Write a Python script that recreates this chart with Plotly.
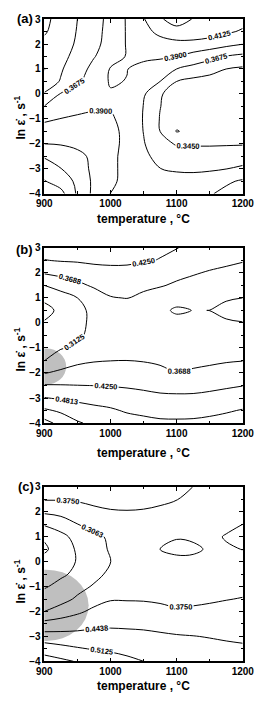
import plotly.graph_objects as go

# ---------------- data ----------------
temperatures = [900, 925, 950, 975, 1000, 1025, 1050, 1075, 1100, 1125, 1150, 1175, 1200]
ln_rates = [3.0, 2.5, 2.0, 1.5, 1.0, 0.5, 0.0, -0.5, -1.0, -1.5, -2.0, -2.5, -3.0, -3.5, -4.0]
x_ticks = [900, 1000, 1100, 1200]
y_ticks = [-4, -3, -2, -1, 0, 1, 2, 3]

# panel (a) values, rows follow ln_rates (top to bottom)
map_a = [
    [0.317, 0.331, 0.345, 0.3587, 0.374, 0.392, 0.411, 0.4324, 0.445, 0.434, 0.423, 0.421, 0.420],
    [0.320, 0.333, 0.3461, 0.3598, 0.375, 0.3917, 0.4058, 0.418, 0.427, 0.428, 0.423, 0.416, 0.410],
    [0.328, 0.337, 0.3473, 0.3613, 0.3763, 0.3915, 0.399, 0.404, 0.406, 0.405, 0.402, 0.396, 0.3905],
    [0.331, 0.3395, 0.351, 0.3663, 0.3795, 0.3915, 0.3945, 0.394, 0.3899, 0.3822, 0.3744, 0.3665, 0.362],
    [0.3215, 0.343, 0.3572, 0.3742, 0.3915, 0.3905, 0.3836, 0.3755, 0.3675, 0.360, 0.3525, 0.345, 0.3415],
    [0.334, 0.3465, 0.3632, 0.3802, 0.3915, 0.3895, 0.3785, 0.3675, 0.345, 0.339, 0.337, 0.337, 0.338],
    [0.3465, 0.369, 0.378, 0.385, 0.3885, 0.387, 0.3705, 0.3465, 0.338, 0.333, 0.332, 0.333, 0.334],
    [0.368, 0.3765, 0.382, 0.3865, 0.388, 0.380, 0.367, 0.3455, 0.335, 0.331, 0.330, 0.331, 0.333],
    [0.3865, 0.3905, 0.394, 0.3955, 0.393, 0.3823, 0.3665, 0.344, 0.330, 0.327, 0.327, 0.328, 0.330],
    [0.399, 0.401, 0.402, 0.400, 0.3955, 0.3849, 0.367, 0.345, 0.3215, 0.3275, 0.328, 0.329, 0.331],
    [0.4125, 0.411, 0.407, 0.402, 0.396, 0.3849, 0.369, 0.3531, 0.343, 0.3425, 0.3425, 0.343, 0.3435],
    [0.433, 0.427, 0.419, 0.4072, 0.3953, 0.3833, 0.3713, 0.362, 0.357, 0.356, 0.356, 0.357, 0.358],
    [0.4475, 0.4355, 0.4218, 0.4081, 0.3944, 0.3844, 0.3761, 0.3678, 0.364, 0.3625, 0.364, 0.3672, 0.371],
    [0.459, 0.4465, 0.4307, 0.4078, 0.393, 0.3855, 0.381, 0.3785, 0.378, 0.379, 0.382, 0.3865, 0.393],
    [0.480, 0.465, 0.4318, 0.4071, 0.3895, 0.384, 0.381, 0.380, 0.381, 0.384, 0.388, 0.396, 0.403],
]

# panel (b) values
map_b = [
    [0.445, 0.443, 0.441, 0.439, 0.437, 0.436, 0.434, 0.431, 0.426, 0.418, 0.412, 0.408, 0.405],
    [0.4235, 0.4285, 0.4305, 0.432, 0.432, 0.4315, 0.4285, 0.4235, 0.412, 0.400, 0.389, 0.380, 0.372],
    [0.3737, 0.3848, 0.394, 0.4098, 0.4147, 0.4144, 0.4058, 0.3962, 0.3838, 0.3736, 0.3636, 0.3567, 0.3513],
    [0.3125, 0.3341, 0.3558, 0.3767, 0.3903, 0.3922, 0.3811, 0.3733, 0.3606, 0.3504, 0.3423, 0.3368, 0.3319],
    [0.2632, 0.288, 0.3125, 0.339, 0.3656, 0.3705, 0.3562, 0.340, 0.333, 0.328, 0.322, 0.316, 0.3125],
    [0.245, 0.2643, 0.2978, 0.3255, 0.337, 0.342, 0.338, 0.325, 0.305, 0.3135, 0.3123, 0.303, 0.297],
    [0.259, 0.275, 0.300, 0.323, 0.335, 0.341, 0.342, 0.338, 0.330, 0.325, 0.321, 0.317, 0.314],
    [0.274, 0.287, 0.307, 0.322, 0.333, 0.340, 0.344, 0.344, 0.341, 0.338, 0.336, 0.334, 0.333],
    [0.2935, 0.309, 0.3215, 0.331, 0.340, 0.348, 0.352, 0.353, 0.351, 0.350, 0.348, 0.347, 0.347],
    [0.311, 0.341, 0.358, 0.3654, 0.3679, 0.3689, 0.3662, 0.3625, 0.360, 0.361, 0.3625, 0.365, 0.3674],
    [0.3665, 0.3794, 0.3897, 0.3928, 0.3947, 0.3944, 0.3892, 0.3787, 0.3693, 0.3733, 0.3784, 0.387, 0.3942],
    [0.4293, 0.4279, 0.4259, 0.4245, 0.4222, 0.4195, 0.4148, 0.408, 0.4042, 0.4056, 0.4108, 0.4177, 0.4238],
    [0.4837, 0.4747, 0.4685, 0.4622, 0.456, 0.4472, 0.4415, 0.4363, 0.4357, 0.4359, 0.4409, 0.447, 0.4534],
    [0.5469, 0.5287, 0.5068, 0.4961, 0.4886, 0.4756, 0.4691, 0.463, 0.4625, 0.4636, 0.4693, 0.476, 0.4846],
    [0.615, 0.575, 0.5438, 0.5253, 0.518, 0.505, 0.497, 0.491, 0.490, 0.491, 0.495, 0.502, 0.510],
]

# panel (c) values
map_c = [
    [0.418, 0.418, 0.419, 0.420, 0.420, 0.418, 0.412, 0.404, 0.390, 0.3745, 0.364, 0.357, 0.352],
    [0.379, 0.379, 0.382, 0.390, 0.395, 0.396, 0.393, 0.386, 0.376, 0.366, 0.358, 0.350, 0.344],
    [0.3166, 0.3288, 0.3437, 0.3613, 0.370, 0.372, 0.370, 0.364, 0.357, 0.351, 0.345, 0.338, 0.333],
    [0.2448, 0.2661, 0.305, 0.3269, 0.343, 0.350, 0.351, 0.347, 0.340, 0.332, 0.322, 0.312, 0.306],
    [0.175, 0.220, 0.258, 0.2925, 0.315, 0.327, 0.330, 0.325, 0.309, 0.313, 0.312, 0.3045, 0.296],
    [0.160, 0.195, 0.2469, 0.2806, 0.3125, 0.322, 0.318, 0.3062, 0.296, 0.298, 0.312, 0.309, 0.3058],
    [0.186, 0.208, 0.2415, 0.272, 0.306, 0.321, 0.327, 0.325, 0.318, 0.318, 0.320, 0.318, 0.315],
    [0.208, 0.227, 0.2515, 0.287, 0.3195, 0.333, 0.338, 0.338, 0.333, 0.332, 0.334, 0.337, 0.340],
    [0.231, 0.2567, 0.2848, 0.313, 0.330, 0.343, 0.350, 0.352, 0.351, 0.350, 0.352, 0.356, 0.360],
    [0.2681, 0.282, 0.3166, 0.3514, 0.371, 0.371, 0.370, 0.366, 0.360, 0.362, 0.367, 0.373, 0.3775],
    [0.3063, 0.3368, 0.3637, 0.3888, 0.4005, 0.400, 0.3988, 0.3914, 0.3825, 0.3858, 0.3903, 0.3936, 0.3963],
    [0.3989, 0.4076, 0.4152, 0.4279, 0.4323, 0.4312, 0.430, 0.4241, 0.4165, 0.4157, 0.4157, 0.4152, 0.415],
    [0.4707, 0.4671, 0.467, 0.468, 0.4669, 0.463, 0.4588, 0.4536, 0.4487, 0.4453, 0.4412, 0.4368, 0.4337],
    [0.5534, 0.5344, 0.519, 0.5085, 0.5031, 0.4952, 0.4856, 0.478, 0.471, 0.466, 0.461, 0.456, 0.452],
    [0.610, 0.595, 0.577, 0.558, 0.540, 0.526, 0.5125, 0.502, 0.494, 0.487, 0.481, 0.475, 0.470],
]

# contour levels (start, step, end)
levels_a = (0.32251, 0.0225, 0.481)
levels_b = (0.25626, 0.05625, 0.60)
levels_c = (0.16876, 0.06875, 0.59)

# shaded regions (centre temperature, centre ln rate, half-width, half-height)
region_b = (903, -1.74, 30, 0.72)
region_c = (903, -1.75, 64, 1.43)

panel_tags = ["(a)", "(b)", "(c)"]
x_title = "temperature , °C"
y_title = "ln ε̇ , s<sup>-1</sup>"

# ---------------- layout geometry ----------------
W, H = 264, 704
x_dom = [39.3 / W, 254.0 / W]
panel_px = [(13.3, 191.0), (246.0, 424.3), (489.3, 666.7)]  # top, bottom in px
y_doms = [[1 - b / H, 1 - t / H] for t, b in panel_px]
tag_pos = [(18, 13), (18, 248), (19, 489)]
xt_pos = [217, 455, 692]
yt_pos = [113, 349, 585]

FONT = "Liberation Sans, Arial, sans-serif"
BLACK_SCALE = [[0, "black"], [1, "black"]]

fig = go.Figure()
maps = [map_a, map_b, map_c]
levels = [levels_a, levels_b, levels_c]
y_up = ln_rates[::-1]

for i in range(3):
    suffix = "" if i == 0 else str(i + 1)
    start, step, end = levels[i]
    fig.add_trace(go.Contour(
        x=temperatures, y=y_up, z=maps[i][::-1],
        xaxis="x" + suffix, yaxis="y" + suffix,
        autocontour=False,
        colorscale=BLACK_SCALE,
        contours=dict(start=start, end=end, size=step, coloring="lines",
                      showlabels=True, labelformat=".4f",
                      labelfont=dict(family=FONT, size=7.5, color="black", weight="bold")),
        line=dict(width=1, smoothing=1),
        showscale=False, hoverinfo="skip",
    ))

axis_common = dict(showline=True, linecolor="black", linewidth=1.5, mirror="ticks",
                   ticks="inside", ticklen=4, tickwidth=1, tickcolor="black",
                   showgrid=False, zeroline=False, ticklabeloverflow="allow",
                   tickfont=dict(family=FONT, size=10, color="black", weight="bold"))

layout = dict(width=W, height=H, margin=dict(l=0, r=0, t=0, b=0),
              paper_bgcolor="white", plot_bgcolor="white", showlegend=False)
for i in range(3):
    suffix = "" if i == 0 else str(i + 1)
    layout["xaxis" + suffix] = dict(axis_common, domain=x_dom, range=[900, 1200],
                                    tickvals=x_ticks, anchor="y" + suffix,
                                    minor=dict(ticks="inside", ticklen=2.5, dtick=50, tickcolor="black"))
    layout["yaxis" + suffix] = dict(axis_common, domain=y_doms[i], range=[-4, 3],
                                    tickvals=y_ticks, anchor="x" + suffix,
                                    minor=dict(ticks="inside", ticklen=2.5, dtick=0.5, tickcolor="black"))
fig.update_layout(**layout)

# shaded regions
for (cx, cy, rx, ry), ax in [(region_b, "2"), (region_c, "3")]:
    fig.add_shape(type="circle", xref="x" + ax, yref="y" + ax,
                  x0=cx - rx, x1=cx + rx, y0=cy - ry, y1=cy + ry,
                  fillcolor="#bfbfbf", line=dict(width=0), layer="below")

# text
for i in range(3):
    tx, ty = tag_pos[i]
    fig.add_annotation(text=panel_tags[i], xref="paper", yref="paper",
                       x=tx / W, y=1 - ty / H, xanchor="center", yanchor="middle",
                       showarrow=False,
                       font=dict(family=FONT, size=13, color="black", weight="bold"))
    fig.add_annotation(text=x_title, xref="paper", yref="paper",
                       x=146.5 / W, y=1 - xt_pos[i] / H, xanchor="center", yanchor="middle",
                       showarrow=False,
                       font=dict(family=FONT, size=12, color="black", weight="bold"))
    fig.add_annotation(text=y_title, xref="paper", yref="paper", textangle=-90,
                       x=13.5 / W, y=1 - yt_pos[i] / H, xanchor="center", yanchor="middle",
                       showarrow=False,
                       font=dict(family=FONT, size=12, color="black", weight="bold"))

fig.write_html("out.html")
